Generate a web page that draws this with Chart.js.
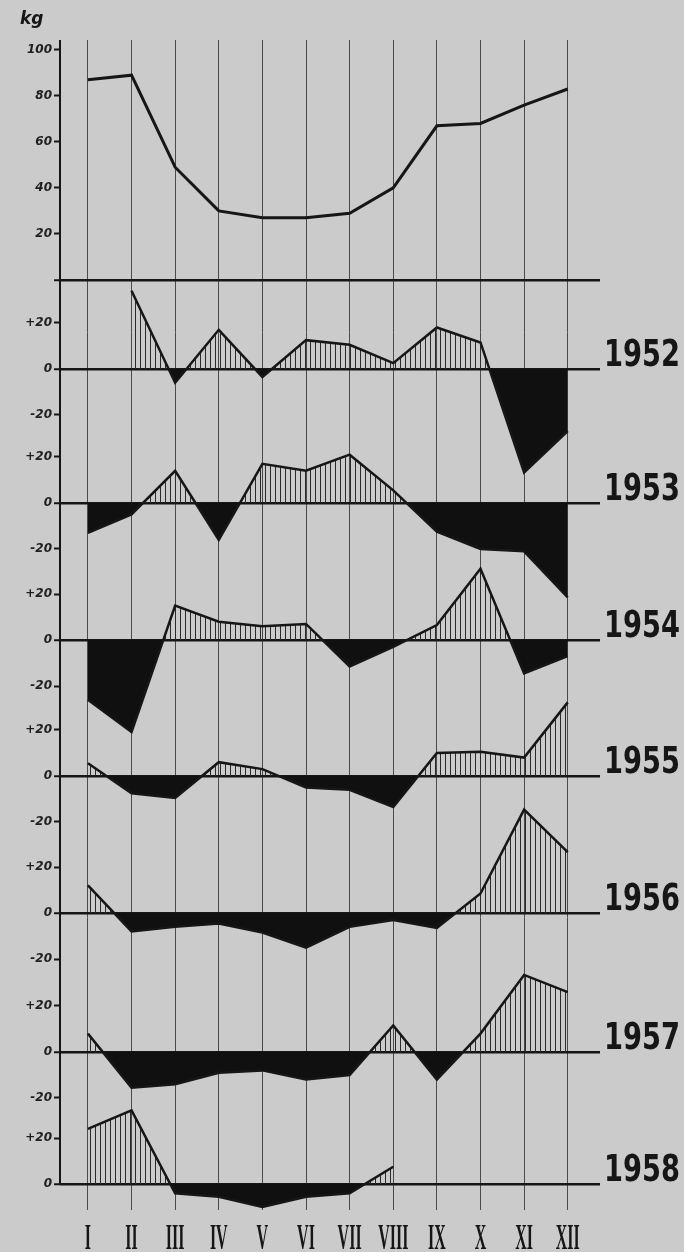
<!DOCTYPE html>
<html>
<head>
<meta charset="utf-8">
<script src="https://cdn.jsdelivr.net/npm/chart.js@4.4.1/dist/chart.umd.min.js"></script>
<style>
  body { margin: 0; background: #cbcbcb; }
  canvas { display: block; }
</style>
</head>
<body>
<canvas id="grafico" width="684" height="1252"></canvas>
<script>
// meses y valores
const months = ["I", "II", "III", "IV", "V", "VI", "VII", "VIII", "IX", "X", "XI", "XII"];
const meanKg = [87, 89, 49, 30, 27, 27, 29, 40, 67, 68, 76, 83];
const kgTicks = [20, 40, 60, 80, 100];

const years = ["1952", "1953", "1954", "1955", "1956", "1957", "1958"];
const dev1952 = [null, 34, -6, 17, -3.5, 12.5, 10.5, 2.5, 18, 11.5, -45, -27];
const dev1953 = [-13, -5, 14, -16, 17, 14, 21, 5.5, -12.5, -20, -21, -41];
const dev1954 = [-26, -40, 15, 8, 6, 7, -11.5, -3, 6.5, 31, -14.5, -7];
const dev1955 = [5.5, -7.5, -9.5, 6, 3, -5, -6, -13.5, 10, 10.5, 8, 32];
const dev1956 = [12, -8, -6, -4.5, -8.5, -15, -6, -3, -6.5, 8.5, 45, 26.5];
const dev1957 = [8, -15.5, -14, -9, -8, -12, -10, 11.5, -12, 8, 33.5, 26];
const dev1958 = [24, 32, -4, -5.5, -10, -5.5, -4, 7.5, null, null, null, null];
const devTicks = [20, 0, -20];

const deviations = [dev1952, dev1953, dev1954, dev1955, dev1956, dev1957, dev1958];

// layout: where each year's zero line sits on the shared axis
const panelBase = [-38.7, -97.0, -156.6, -215.7, -275.3, -335.7, -393.1];

const ink = "#161616";

// rayado vertical para las desviaciones positivas
const hatchCanvas = document.createElement("canvas");
hatchCanvas.width = 5;
hatchCanvas.height = 4;
const hctx = hatchCanvas.getContext("2d");
hctx.fillStyle = "#2a2a2a";
hctx.fillRect(0, 0, 1, 4);
const hatch = hctx.createPattern(hatchCanvas, "repeat");

const xs = months.map((m, i) => i + 1);

// ticks del eje y
const yTicks = [];
const yLabels = [];
const zeroValues = [0];
kgTicks.forEach((t) => { yTicks.push(t); yLabels.push(String(t)); });
yTicks.push(0); yLabels.push("");
panelBase.forEach((b, p) => {
  devTicks.forEach((t) => {
    if (p === panelBase.length - 1 && t < 0) return;
    yTicks.push(b + t);
    yLabels.push(t > 0 ? "+" + t : String(t));
  });
  zeroValues.push(b);
});
const isZero = (v) => zeroValues.some((z) => Math.abs(z - v) < 0.01);

const datasets = [
  {
    label: "kg",
    data: meanKg.map((v, i) => ({ x: xs[i], y: v })),
    borderColor: ink,
    borderWidth: 3,
    pointRadius: 0,
    fill: false,
    tension: 0,
  },
];
deviations.forEach((serie, p) => {
  datasets.push({
    label: years[p],
    data: serie.map((v, i) => ({ x: xs[i], y: v === null ? null : v + panelBase[p] })),
    borderColor: ink,
    borderWidth: 2.5,
    pointRadius: 0,
    tension: 0,
    spanGaps: false,
    clip: false,
    fill: { target: { value: panelBase[p] }, above: hatch, below: "#101010" },
  });
});

const fondo = {
  id: "fondo",
  beforeDraw(chart) {
    const { ctx } = chart;
    ctx.save();
    ctx.fillStyle = "#cbcbcb";
    ctx.fillRect(0, 0, chart.width, chart.height);
    ctx.restore();
  },
};

const textos = {
  id: "textos",
  afterDraw(chart) {
    const { ctx, chartArea } = chart;
    const y = chart.scales.y;
    const x = chart.scales.x;
    ctx.save();

    // eje vertical hasta el cero de 1958
    ctx.strokeStyle = ink;
    ctx.lineWidth = 2;
    ctx.beginPath();
    ctx.moveTo(chartArea.left, chartArea.top);
    ctx.lineTo(chartArea.left, y.getPixelForValue(panelBase[panelBase.length - 1]));
    ctx.stroke();

    ctx.fillStyle = ink;

    // años a la derecha
    ctx.font = "bold 38px 'Liberation Sans Narrow', 'DejaVu Sans Condensed', sans-serif";
    ctx.textBaseline = "alphabetic";
    years.forEach((yr, p) => {
      const w = ctx.measureText(yr).width;
      const sx = 76 / w;
      const py = y.getPixelForValue(panelBase[p]) - 3;
      ctx.save();
      ctx.translate(604, py);
      ctx.scale(sx, 1);
      ctx.fillText(yr, 0, 0);
      ctx.restore();
    });

    // meses en numeros romanos
    ctx.font = "bold 20px 'Liberation Serif', serif";
    ctx.textAlign = "center";
    ctx.textBaseline = "alphabetic";
    months.forEach((m, i) => {
      const px = x.getPixelForValue(xs[i]);
      ctx.save();
      ctx.translate(px, 1249);
      ctx.scale(0.8, 1.75);
      ctx.fillText(m, 0, 0);
      ctx.restore();
    });

    // unidad
    ctx.font = "italic bold 17px 'DejaVu Sans', sans-serif";
    ctx.textAlign = "left";
    ctx.fillText("kg", 20, 24);
    ctx.restore();
  },
};

new Chart(document.getElementById("grafico"), {
  type: "line",
  data: { datasets },
  options: {
    responsive: false,
    animation: false,
    devicePixelRatio: 1,
    layout: { padding: { top: 40, right: 84, left: 0, bottom: 0 } },
    plugins: { legend: { display: false }, tooltip: { enabled: false } },
    scales: {
      x: {
        type: "linear",
        min: 0.36,
        max: 12.74,
        afterBuildTicks: (s) => { s.ticks = xs.map((v) => ({ value: v })); },
        afterFit: (s) => { s.height = 42; },
        ticks: { display: false },
        grid: { color: "#4a4a4a", lineWidth: 1, drawTicks: false },
        border: { display: false },
      },
      y: {
        type: "linear",
        min: -404.4,
        max: 104.3,
        afterBuildTicks: (s) => { s.ticks = yTicks.map((v) => ({ value: v })); },
        afterFit: (s) => { s.width = 60; },
        ticks: {
          autoSkip: false,
          padding: 2,
          color: "#202020",
          font: { family: "'DejaVu Sans', sans-serif", size: 12, style: "italic", weight: "bold" },
          callback: (v, i) => yLabels[yTicks.indexOf(v)] ?? "",
        },
        grid: {
          color: (c) => (c.tick && isZero(c.tick.value) ? ink : "rgba(0,0,0,0)"),
          lineWidth: (c) => (c.tick && isZero(c.tick.value) ? 2.5 : 1),
          tickColor: ink,
          tickLength: 6,
          tickWidth: 2,
        },
        border: { display: false },
      },
    },
  },
  plugins: [fondo, textos],
});
</script>
</body>
</html>
